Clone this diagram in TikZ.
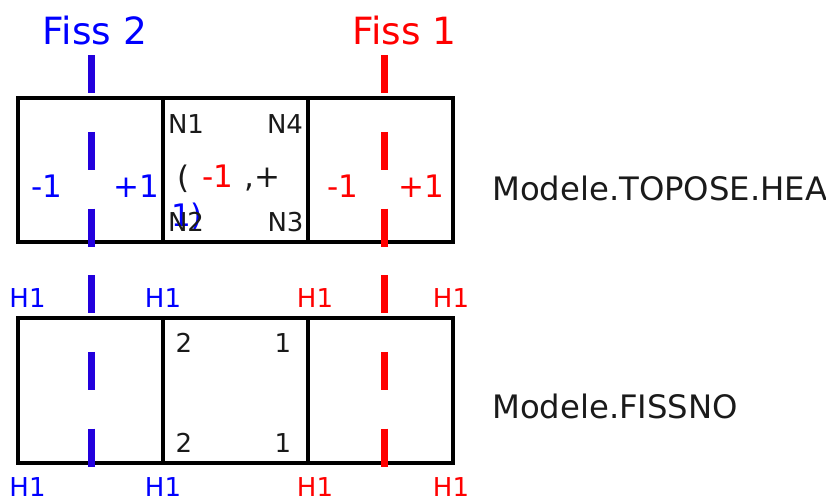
\documentclass[tikz,border=0pt]{standalone}
\usepackage{fontspec}
\setmainfont{DejaVu Sans}
\definecolor{crackblue}{RGB}{34,0,221}
\definecolor{fissblue}{RGB}{0,0,255}
\definecolor{fissred}{RGB}{255,0,0}
\definecolor{ink}{RGB}{26,26,26}
\begin{document}
\begin{tikzpicture}[x=1pt,y=-1pt,
  cell/.style={draw=black,line width=3.3pt},
  crack/.style={line width=7pt,dash pattern=on 38.4pt off 38.4pt},
  big/.style={inner sep=0pt,anchor=base,font=\fontsize{37.5}{40}\selectfont},
  mid/.style={inner sep=0pt,anchor=base,font=\fontsize{31}{34}\selectfont},
  small/.style={inner sep=0pt,anchor=base,font=\fontsize{26}{28}\selectfont,text=ink},
  model/.style={inner sep=0pt,anchor=base west,font=\fontsize{32.3}{35}\selectfont,text=ink}]
\useasboundingbox (0,0) rectangle (826,498);

% upper mesh (Modele.TOPOSE.HEA)
\draw[cell] (18,98) rectangle (453,242);
\draw[cell] (163,98) -- (163,242);
\draw[cell] (308,98) -- (308,242);
% lower mesh (Modele.FISSNO)
\draw[cell] (18,318) rectangle (453,463);
\draw[cell] (163,318) -- (163,463);
\draw[cell] (308,318) -- (308,463);

% crack traces
\coordinate (f2a) at (91,55);  \coordinate (f2b) at (91,247);
\coordinate (f2c) at (91,275); \coordinate (f2d) at (91,467);
\coordinate (f1a) at (384,55);  \coordinate (f1b) at (384,247);
\coordinate (f1c) at (384,275); \coordinate (f1d) at (384,467);
\draw[crack,crackblue] (f2a) -- (f2b);
\draw[crack,crackblue] (f2c) -- (f2d);
\draw[crack,fissred] (f1a) -- (f1b);
\draw[crack,fissred] (f1c) -- (f1d);

% crack names
\node[big,text=fissblue] (fiss2) at (95,44) {Fiss 2};
\node[big,text=fissred] (fiss1) at (404.5,44) {Fiss 1};

% model names
\node[model] (topose) at (492,200) {Modele.TOPOSE.HEA};
\node[model] (fissno) at (492,418) {Modele.FISSNO};

% side signs of the upper mesh
\node[mid,text=fissblue] (m2) at (47,197) {-1};
\node[mid,text=fissblue] (p2) at (136,197) {+1};
\node[mid,text=fissred] (m1) at (343,197) {-1};
\node[mid,text=fissred] (p1) at (421,197) {+1};

% middle element: sign pair
\node[mid,text=ink] (lpar) at (184,188) {(};
\node[mid,text=fissred] (sm) at (217.5,187) {-1};
\node[mid,text=ink] (sp) at (262.5,187) {,+};
\node[mid,text=fissblue] (sq) at (187,226) {1)};

% node numbers of the middle element
\node[small] (n1) at (186,133) {N1};
\node[small] (n4) at (285,133) {N4};
\node[small] (n2) at (186,231) {N2};
\node[small] (n3) at (285.5,231) {N3};

% enrichment labels
\node[small,text=fissblue] (ht1) at (27.5,307) {H1};
\node[small,text=fissblue] (ht2) at (163,307) {H1};
\node[small,text=fissred] (ht3) at (315,307) {H1};
\node[small,text=fissred] (ht4) at (451,307) {H1};
\node[small,text=fissblue] (hb1) at (27.5,496) {H1};
\node[small,text=fissblue] (hb2) at (163,496) {H1};
\node[small,text=fissred] (hb3) at (315,496) {H1};
\node[small,text=fissred] (hb4) at (451,496) {H1};

% crack numbers at the nodes of the lower middle element
\node[small] (c2t) at (184,352) {2};
\node[small] (c1t) at (283,352) {1};
\node[small] (c2b) at (184,452) {2};
\node[small] (c1b) at (283,452) {1};
\end{tikzpicture}
\end{document}
